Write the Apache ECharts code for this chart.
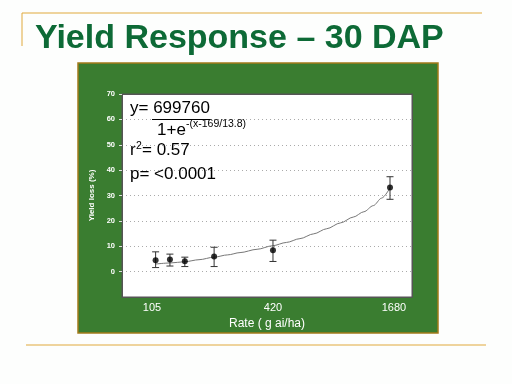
<!DOCTYPE html>
<html><head><meta charset="utf-8">
<script src="https://cdn.jsdelivr.net/npm/echarts@6/dist/echarts.min.js"></script>
<style>html,body{margin:0;padding:0;background:#fff}#c{width:512px;height:384px}</style>
</head><body><div id="c"></div>
<script>
// Data
const rates = [109.5, 129, 153, 214, 420, 1605];
const yieldLoss = [4.5, 4.8, 4.1, 6.0, 8.4, 33.2];
const errLow = [1.6, 2.2, 2.0, 2.0, 4.0, 28.5];
const errHigh = [7.8, 6.9, 5.7, 9.6, 12.4, 37.4];
const curveRates = [109.5, 129, 153, 180, 214, 250, 288, 350, 418, 490, 572, 670, 777, 910, 1054, 1190, 1325, 1460, 1605];
const curveLoss = [3.0, 3.4, 3.9, 4.7, 5.7, 6.6, 7.5, 8.8, 10.2, 11.5, 13.0, 14.9, 16.9, 19.2, 21.5, 23.6, 26.0, 29.0, 33.0];
const xTickLabels = [105, 420, 1680];
const yTicks = [0, 10, 20, 30, 40, 50, 60, 70];

const chart = echarts.init(document.getElementById('c'), null, {renderer: 'canvas'});
const white = '#ffffff';
const FF = '"Liberation Sans", Arial, sans-serif';
const option = {
  backgroundColor: '#fdfefd',
  animation: false,
  graphic: [
    {type: 'rect', z: -10, shape: {x: 78, y: 63, width: 360, height: 270},
     style: {fill: '#3a7d30', stroke: '#a27b1a', lineWidth: 1.5}},
    {type: 'line', shape: {x1: 22, y1: 13, x2: 482, y2: 13}, style: {stroke: '#e0a93c', lineWidth: 1}},
    {type: 'line', shape: {x1: 22, y1: 13, x2: 22, y2: 46}, style: {stroke: '#e0a93c', lineWidth: 1}},
    {type: 'line', shape: {x1: 26, y1: 345, x2: 486, y2: 345}, style: {stroke: '#e0a93c', lineWidth: 1}},
    {type: 'text', left: 35, top: 22, style: {text: 'Yield Response – 30 DAP', fill: '#0d6a36',
      font: 'bold 34px ' + FF}},
    {type: 'text', z: 20, x: 130, y: 117, style: {text: 'y= 699760', fill: '#000', verticalAlign: 'bottom',
      font: '17px ' + FF}},
    {type: 'line', z: 20, shape: {x1: 152, y1: 119.5, x2: 210, y2: 119.5}, style: {stroke: '#000', lineWidth: 1}},
    {type: 'text', z: 20, x: 157, y: 139, style: {text: '1+e', fill: '#000', verticalAlign: 'bottom',
      font: '17px ' + FF}},
    {type: 'text', z: 20, x: 186, y: 130, style: {text: '-(x-169/13.8)', fill: '#000', verticalAlign: 'bottom',
      font: '10.5px ' + FF}},
    {type: 'text', z: 20, x: 130, y: 159, style: {text: 'r', fill: '#000', verticalAlign: 'bottom',
      font: '17px ' + FF}},
    {type: 'text', z: 20, x: 136, y: 152, style: {text: '2', fill: '#000', verticalAlign: 'bottom',
      font: '10.5px ' + FF}},
    {type: 'text', z: 20, x: 142, y: 159, style: {text: '= 0.57', fill: '#000', verticalAlign: 'bottom',
      font: '17px ' + FF}},
    {type: 'text', z: 20, x: 130, y: 183, style: {text: 'p= <0.0001', fill: '#000', verticalAlign: 'bottom',
      font: '17px ' + FF}}
  ],
  grid: {left: 122, top: 94, width: 290, height: 203, show: true, backgroundColor: '#ffffff',
         borderColor: '#555', borderWidth: 1, containLabel: false},
  xAxis: [{
    type: 'log', logBase: 2, min: 74.5, max: 2065,
    axisLine: {show: true, onZero: false, lineStyle: {color: '#555'}},
    axisTick: {show: false}, splitLine: {show: false}, minorTick: {show: false},
    axisLabel: {customValues: xTickLabels, color: white, fontSize: 11, margin: 5,
                fontFamily: FF, formatter: v => String(Math.round(v))},
    name: 'Rate ( g ai/ha)', nameLocation: 'middle', nameGap: 20,
    nameTextStyle: {color: white, fontSize: 12, fontFamily: FF}
  }, {
    type: 'value', position: 'top', min: 0, max: 1,
    axisLine: {show: true, onZero: false, lineStyle: {color: '#555'}}, axisTick: {show: false},
    axisLabel: {show: false}, splitLine: {show: false}
  }],
  yAxis: [{
    type: 'value', min: -10, max: 70, interval: 10,
    axisLine: {show: true, onZero: false, lineStyle: {color: '#555'}},
    axisTick: {show: true, length: 3, customValues: yTicks, lineStyle: {color: '#ddd'}},
    axisLabel: {color: white, fontSize: 7.5, fontWeight: 'bold', margin: 7, customValues: yTicks,
                fontFamily: FF, formatter: v => String(v)},
    splitLine: {show: true, lineStyle: {color: '#aaa', type: [1, 3], width: 1}},
    name: 'Yield loss (%)', nameLocation: 'middle', nameGap: 19, nameRotate: 90,
    nameTextStyle: {color: white, fontSize: 8, fontWeight: 'bold', fontFamily: FF}
  }, {
    type: 'value', position: 'right', min: 0, max: 1,
    axisLine: {show: true, onZero: false, lineStyle: {color: '#555'}}, axisTick: {show: false},
    axisLabel: {show: false}, splitLine: {show: false}
  }],
  series: [
    {type: 'line', data: curveRates.map((r, i) => [r, curveLoss[i]]), smooth: 0.3, smoothMonotone: 'x',
     showSymbol: false, lineStyle: {color: '#777', width: 1}, z: 3},
    {type: 'custom', z: 4,
     data: rates.map((r, i) => [r, errLow[i], errHigh[i]]),
     renderItem: function (params, api) {
       const x = api.value(0);
       const lo = api.coord([x, api.value(1)]);
       const hi = api.coord([x, api.value(2)]);
       const w = 3.5;
       const st = {stroke: '#333', lineWidth: 1};
       return {type: 'group', children: [
         {type: 'line', shape: {x1: lo[0], y1: lo[1], x2: hi[0], y2: hi[1]}, style: st},
         {type: 'line', shape: {x1: lo[0] - w, y1: lo[1], x2: lo[0] + w, y2: lo[1]}, style: st},
         {type: 'line', shape: {x1: hi[0] - w, y1: hi[1], x2: hi[0] + w, y2: hi[1]}, style: st}
       ]};
     }},
    {type: 'scatter', data: rates.map((r, i) => [r, yieldLoss[i]]), symbolSize: 6,
     itemStyle: {color: '#000'}, z: 5}
  ]
};
chart.setOption(option);
</script>
</body></html>
